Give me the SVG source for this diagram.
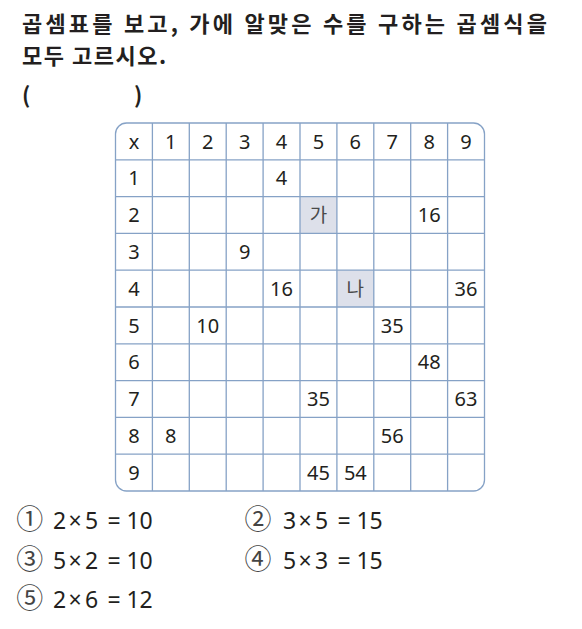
<svg xmlns="http://www.w3.org/2000/svg" width="582" height="629" viewBox="0 0 582 629">
<style>
.title{font-family:"Noto Sans CJK KR","Noto Sans",sans-serif;font-weight:bold;font-size:22px;fill:#231f20}
.cell{font-family:"Noto Sans","Noto Sans CJK KR",sans-serif;font-size:20px;fill:#231f20;text-anchor:middle}
.kor{font-family:"Noto Sans CJK KR",sans-serif;font-size:19px;fill:#4a4a4a;text-anchor:middle}
.grid{stroke:#86a2c6;stroke-width:1.3;fill:none}
.shade{fill:#dde0ea}
.circ{font-family:"Noto Sans CJK KR",sans-serif;font-size:27px;fill:#444;text-anchor:middle}
.eq{font-family:"Noto Sans","Noto Sans CJK KR",sans-serif;font-size:23px;fill:#231f20}
</style>
<rect width="582" height="629" fill="#fff"/>
<g id="question">
<text class="title" x="22" y="32" textLength="525" lengthAdjust="spacing">곱셈표를 보고, 가에 알맞은 수를 구하는 곱셈식을</text>
<text class="title" x="22" y="64" letter-spacing="1.5">모두 고르시오.</text>
<text class="title" x="22" y="103">(</text>
<text class="title" x="134" y="103">)</text>
</g>
<g id="table">
<rect class="shade" x="300" y="196.6" width="36.9" height="36.8"/>
<rect class="shade" x="336.9" y="270.2" width="36.9" height="36.8"/>
<g class="grid">
<rect x="115.5" y="123" width="369" height="368" rx="11"/>
<path d="M152.4 123V491M189.3 123V491M226.2 123V491M263.1 123V491M300 123V491M336.9 123V491M373.8 123V491M410.7 123V491M447.6 123V491"/>
<path d="M115.5 159.8H484.5M115.5 196.6H484.5M115.5 233.4H484.5M115.5 270.2H484.5M115.5 307H484.5M115.5 343.8H484.5M115.5 380.6H484.5M115.5 417.4H484.5M115.5 454.2H484.5"/>
</g>
<g id="header">
<text class="cell" x="133.95" y="148.6">x</text>
<text class="cell" x="170.85" y="148.6">1</text>
<text class="cell" x="207.75" y="148.6">2</text>
<text class="cell" x="244.65" y="148.6">3</text>
<text class="cell" x="281.55" y="148.6">4</text>
<text class="cell" x="318.45" y="148.6">5</text>
<text class="cell" x="355.35" y="148.6">6</text>
<text class="cell" x="392.25" y="148.6">7</text>
<text class="cell" x="429.15" y="148.6">8</text>
<text class="cell" x="466.05" y="148.6">9</text>
</g>
<g id="rowlabels">
<text class="cell" x="133.95" y="185.4">1</text>
<text class="cell" x="133.95" y="222.2">2</text>
<text class="cell" x="133.95" y="259">3</text>
<text class="cell" x="133.95" y="295.8">4</text>
<text class="cell" x="133.95" y="332.6">5</text>
<text class="cell" x="133.95" y="369.4">6</text>
<text class="cell" x="133.95" y="406.2">7</text>
<text class="cell" x="133.95" y="443">8</text>
<text class="cell" x="133.95" y="479.8">9</text>
</g>
<g id="values">
<text class="cell" x="281.55" y="185.4">4</text>
<text class="kor" x="318.45" y="222">가</text>
<text class="cell" x="429.15" y="222.2">16</text>
<text class="cell" x="244.65" y="259">9</text>
<text class="cell" x="281.55" y="295.8">16</text>
<text class="kor" x="355.35" y="295.6">나</text>
<text class="cell" x="466.05" y="295.8">36</text>
<text class="cell" x="207.75" y="332.6">10</text>
<text class="cell" x="392.25" y="332.6">35</text>
<text class="cell" x="429.15" y="369.4">48</text>
<text class="cell" x="318.45" y="406.2">35</text>
<text class="cell" x="466.05" y="406.2">63</text>
<text class="cell" x="170.85" y="443">8</text>
<text class="cell" x="392.25" y="443">56</text>
<text class="cell" x="318.45" y="479.8">45</text>
<text class="cell" x="355.35" y="479.8">54</text>
</g>
</g>
<g id="options">
<text class="circ" x="29.7" y="529">①</text>
<text class="eq" x="53 68.6 85 107.5 126.5 139.6" y="529">2×5=10</text>
<text class="circ" x="258" y="529">②</text>
<text class="eq" x="283 298.6 315 337.5 356.5 369.6" y="529">3×5=15</text>
<text class="circ" x="29.7" y="569">③</text>
<text class="eq" x="53 68.6 85 107.5 126.5 139.6" y="569">5×2=10</text>
<text class="circ" x="258" y="569">④</text>
<text class="eq" x="283 298.6 315 337.5 356.5 369.6" y="569">5×3=15</text>
<text class="circ" x="29.7" y="608">⑤</text>
<text class="eq" x="53 68.6 85 107.5 126.5 139.6" y="608">2×6=12</text>
</g>
</svg>
